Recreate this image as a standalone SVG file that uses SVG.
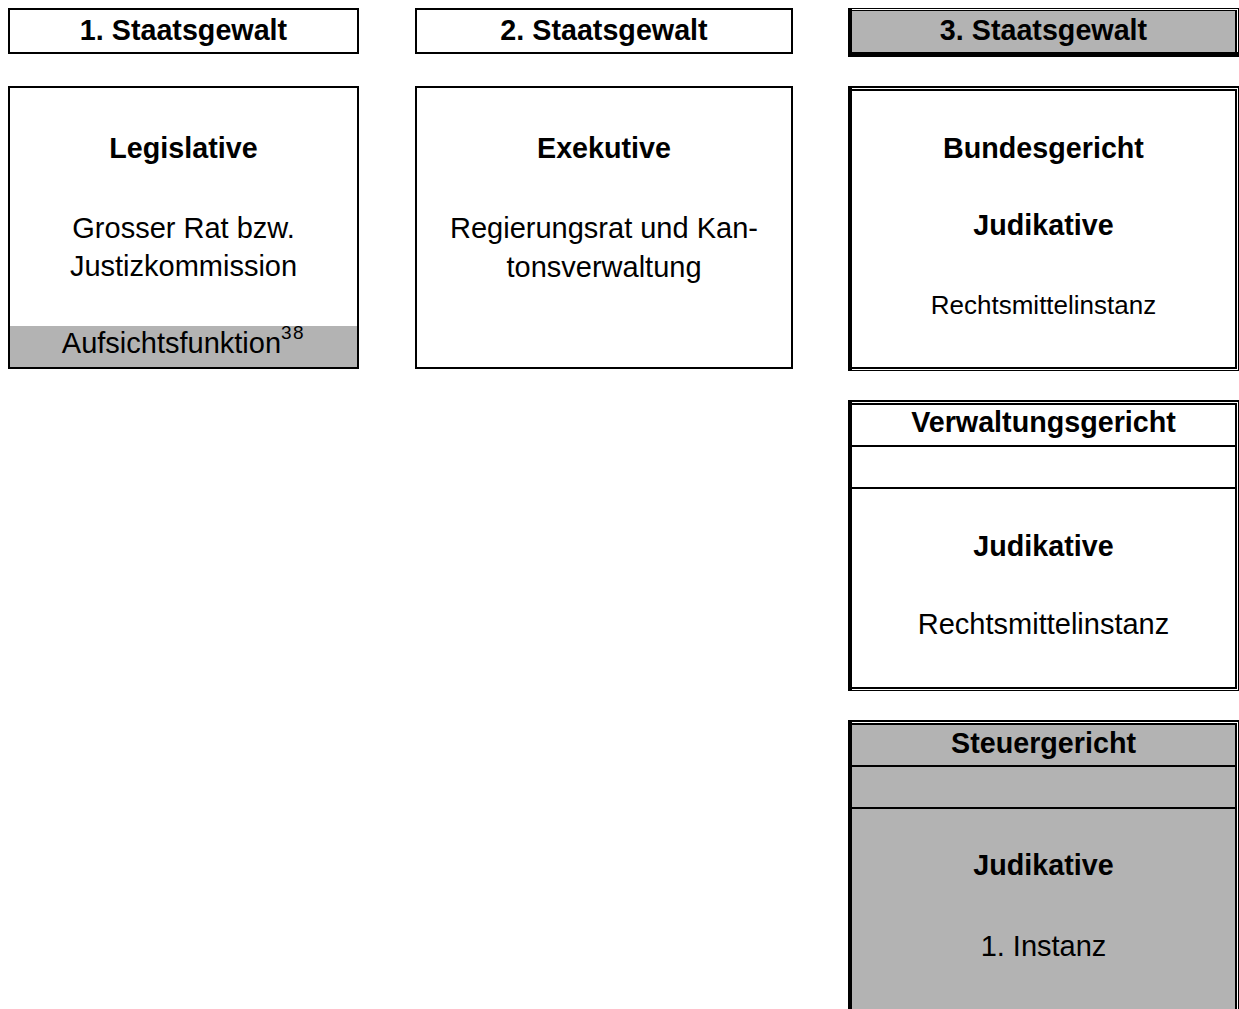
<svg xmlns="http://www.w3.org/2000/svg" width="1239" height="1009" viewBox="0 0 1239 1009">
<style>
text{font-family:"Liberation Sans",Arial,sans-serif;fill:#000;text-anchor:middle}
.b{font-weight:bold;font-size:28.7px}
.r{font-size:29px}
.s{font-size:26px}
.sup{font-size:19px;letter-spacing:1.5px}
.box{fill:#fff;stroke:#000;stroke-width:2}
.gray{fill:#b3b3b3}
.blk{fill:#000}
.wht{fill:#fff}
</style>
<rect x="0" y="0" width="1239" height="1009" fill="#fff"/>
<g id="header1">
<rect class="box" x="9" y="9" width="349" height="44"/>
<text class="b" x="183.5" y="40">1. Staatsgewalt</text>
</g>
<g id="header2">
<rect class="box" x="416" y="9" width="376" height="44"/>
<text class="b" x="604" y="40">2. Staatsgewalt</text>
</g>
<g id="header3">
<rect class="blk" x="848" y="8" width="391" height="49"/>
<rect class="wht" x="852" y="9" width="386" height="43"/>
<rect class="blk" x="852" y="10" width="385" height="42"/>
<rect class="gray" x="852" y="11" width="383" height="41"/>
<text class="b" x="1043.5" y="40">3. Staatsgewalt</text>
</g>
<g id="legislative">
<rect class="box" x="9" y="87" width="349" height="281"/>
<rect class="gray" x="10" y="326" width="347" height="41"/>
<text class="b" x="183.5" y="158">Legislative</text>
<text class="r" x="183.5" y="238">Grosser Rat bzw.</text>
<text class="r" x="183.5" y="276">Justizkommission</text>
<text class="r" x="183.5" y="353">Aufsichtsfunktion<tspan class="sup" dy="-14">38</tspan></text>
</g>
<g id="exekutive">
<rect class="box" x="416" y="87" width="376" height="281"/>
<text class="b" x="604" y="158">Exekutive</text>
<text class="r" x="604" y="238">Regierungsrat und Kan-</text>
<text class="r" x="604" y="277">tonsverwaltung</text>
</g>
<g id="bundesgericht">
<rect class="blk" x="848" y="86" width="391" height="285"/>
<rect class="wht" x="852" y="88" width="386" height="282"/>
<rect class="blk" x="852" y="89" width="385" height="280"/>
<rect class="wht" x="852" y="91" width="383" height="276"/>
<text class="b" x="1043.5" y="158">Bundesgericht</text>
<text class="b" x="1043.5" y="235">Judikative</text>
<text class="s" x="1043.5" y="314">Rechtsmittelinstanz</text>
</g>
<g id="verwaltungsgericht">
<rect class="blk" x="848" y="400" width="391" height="291"/>
<rect class="wht" x="852" y="402" width="386" height="288"/>
<rect class="blk" x="852" y="403" width="385" height="286"/>
<rect class="wht" x="852" y="405" width="383" height="282"/>
<rect class="blk" x="852" y="445" width="383" height="2"/>
<rect class="blk" x="852" y="487" width="383" height="2"/>
<text class="b" x="1043.5" y="432">Verwaltungsgericht</text>
<text class="b" x="1043.5" y="556">Judikative</text>
<text class="r" x="1043.5" y="634">Rechtsmittelinstanz</text>
</g>
<g id="steuergericht">
<rect class="blk" x="848" y="720" width="391" height="300"/>
<rect class="wht" x="852" y="722" width="386" height="298"/>
<rect class="blk" x="852" y="723" width="385" height="297"/>
<rect class="gray" x="852" y="725" width="383" height="295"/>
<rect class="blk" x="852" y="765" width="383" height="2"/>
<rect class="blk" x="852" y="807" width="383" height="2"/>
<text class="b" x="1043.5" y="753">Steuergericht</text>
<text class="b" x="1043.5" y="875">Judikative</text>
<text class="r" x="1043.5" y="956">1. Instanz</text>
</g>
<g id="connectors"></g>
</svg>
